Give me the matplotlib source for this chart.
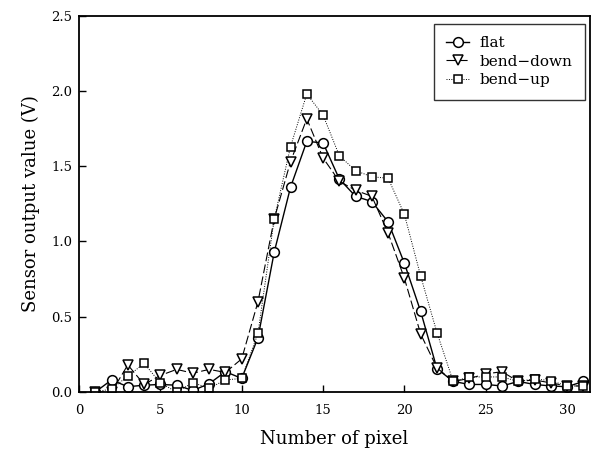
import matplotlib
matplotlib.use("Agg")
import matplotlib.pyplot as plt

# Sensor output along the pixel array for three bending states
pixels = list(range(1, 32))
flat = [0.00, 0.08, 0.035, 0.045, 0.05, 0.045, 0.01, 0.055, 0.135, 0.09,
        0.36, 0.93, 1.36, 1.665, 1.655, 1.415, 1.30, 1.265, 1.13, 0.855,
        0.535, 0.155, 0.07, 0.05, 0.05, 0.04, 0.07, 0.05, 0.04, 0.035, 0.07]
bend_down = [0.00, 0.00, 0.18, 0.05, 0.11, 0.15, 0.125, 0.15, 0.13, 0.22,
             0.60, 1.15, 1.53, 1.815, 1.555, 1.40, 1.34, 1.30, 1.055, 0.755,
             0.385, 0.16, 0.07, 0.09, 0.12, 0.135, 0.07, 0.08, 0.06, 0.04, 0.04]
bend_up = [0.00, 0.02, 0.105, 0.19, 0.06, 0.00, 0.062, 0.025, 0.08, 0.09,
           0.39, 1.15, 1.63, 1.98, 1.84, 1.57, 1.47, 1.43, 1.42, 1.18,
           0.77, 0.395, 0.07, 0.10, 0.10, 0.10, 0.07, 0.087, 0.075, 0.04, 0.04]

x_ticks = [0, 5, 10, 15, 20, 25, 30]
y_ticks = [0.0, 0.5, 1.0, 1.5, 2.0, 2.5]

plt.rcParams["font.family"] = ["DejaVu Serif"]

fig = plt.figure(figsize=(6.05, 4.53), dpi=100)
ax = fig.add_axes([0.1306, 0.1347, 0.8444, 0.8306])

mk = dict(markersize=7, markerfacecolor="white", markeredgecolor="black",
          markeredgewidth=1.1, color="black")
ax.plot(pixels, flat, linestyle="-", linewidth=1.0, marker="o", label="flat", **mk)
ax.plot(pixels, bend_down, linestyle=(0, (8, 3)), linewidth=0.8, marker="v",
        label="bend\u2212down", **mk)
ax.plot(pixels, bend_up, linestyle=(0, (1, 1.5)), linewidth=0.7, marker="s",
        label="bend\u2212up", **{**mk, "markersize": 6})

ax.set_xlim(0, 31.4)
ax.set_ylim(0, 2.5)
ax.set_xticks(x_ticks)
ax.set_yticks(y_ticks)
ax.set_yticklabels([f"{v:.1f}" for v in y_ticks])
ax.tick_params(direction="in", length=5, width=1, labelsize=9.5, colors="black")
ax.tick_params(axis="x", pad=9)
ax.tick_params(axis="y", pad=5)
for s in ax.spines.values():
    s.set_linewidth(1.3)

ax.set_xlabel("Number of pixel", fontsize=13, labelpad=9)
ax.set_ylabel("Sensor output value (V)", fontsize=13, labelpad=8)

leg = ax.legend(loc="upper right", fontsize=11, frameon=True, fancybox=False,
                handlelength=1.5, handletextpad=0.7, borderpad=0.8,
                labelspacing=0.3, borderaxespad=0,
                bbox_to_anchor=(0.99, 0.978))
leg.get_frame().set_edgecolor("black")
leg.get_frame().set_linewidth(1.0)

fig.savefig("out.png", dpi=100)
